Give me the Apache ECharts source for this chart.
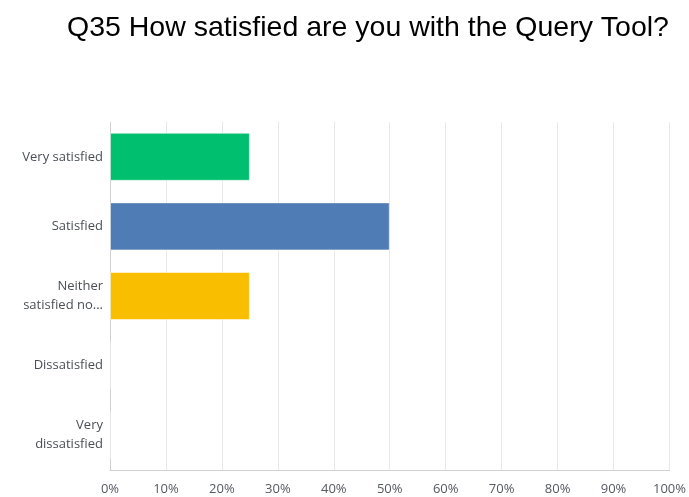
<!DOCTYPE html>
<html>
<head>
<meta charset="utf-8">
<script src="https://cdn.jsdelivr.net/npm/echarts@6/dist/echarts.min.js"></script>
<style>
  html, body { margin: 0; padding: 0; background: #fff; }
  #chart { width: 689px; height: 497px; }
</style>
</head>
<body>
<div id="chart"></div>
<script>
// Answer choices, top to bottom
const categories = [
  'Very satisfied',
  'Satisfied',
  'Neither\nsatisfied no...',
  'Dissatisfied',
  'Very\ndissatisfied'
];
// Share of responses, percent
const percentages = [25, 50, 25, 0, 0];
// X axis tick labels
const tickLabels = ['0%', '10%', '20%', '30%', '40%', '50%', '60%', '70%', '80%', '90%', '100%'];
// Bar colours per answer
const barColors = ['#00bf6f', '#507cb6', '#f9be00', '#6bc8cd', '#a9a9a9'];

const chart = echarts.init(document.getElementById('chart'), null, { renderer: 'canvas' });

chart.setOption({
  animation: false,
  title: {
    text: 'Q35 How satisfied are you with the Query Tool?',
    left: 62,
    top: 9,
    textStyle: {
      fontFamily: 'Liberation Sans',
      fontSize: 28.5,
      fontWeight: 'normal',
      color: '#000'
    }
  },
  grid: { left: 110, right: 15, top: 122, bottom: 27, containLabel: false },
  xAxis: {
    type: 'value',
    min: 0,
    max: 100,
    interval: 10,
    axisLine: { show: true, lineStyle: { color: '#d0d0d0' } },
    axisTick: { show: false },
    splitLine: { show: true, lineStyle: { color: '#e8e8e8' } },
    axisLabel: {
      color: '#555a60',
      fontFamily: 'Open Sans',
      fontSize: 13,
      margin: 13,
      formatter: (v) => tickLabels[Math.round(v / 10)]
    }
  },
  yAxis: {
    type: 'category',
    inverse: true,
    data: categories,
    axisLine: { show: true, lineStyle: { color: '#d0d0d0' } },
    axisTick: { show: false },
    splitLine: { show: false },
    axisLabel: {
      color: '#4a4f57',
      fontFamily: 'Open Sans',
      fontSize: 13,
      lineHeight: 19,
      margin: 7,
      align: 'right'
    }
  },
  series: [{
    type: 'bar',
    barWidth: '69%',
    data: percentages.map((v, i) => ({
      value: v,
      itemStyle: { color: barColors[i], borderColor: 'rgba(255,255,255,0.5)', borderWidth: 1 }
    }))
  }]
});
</script>
</body>
</html>
